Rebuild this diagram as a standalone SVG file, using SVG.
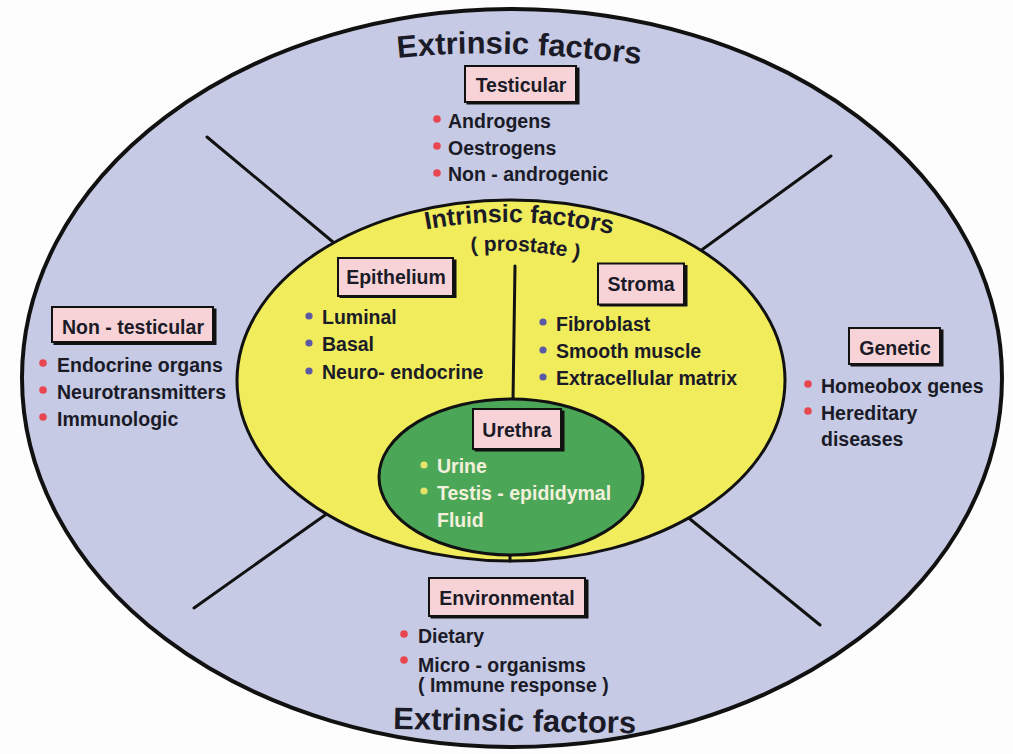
<svg xmlns="http://www.w3.org/2000/svg" width="1013" height="754" viewBox="0 0 1013 754">
  <style>
    text { font-family: "Liberation Sans", Arial, sans-serif; font-weight: bold; fill: #1b1b28; }
    .lbl { font-size: 19.5px; text-anchor: middle; }
    .item { font-size: 19.5px; }
    .big { font-size: 31px; }
    .box { fill: #f7d3d7; stroke: #111; stroke-width: 2; }
    .shadow { fill: #111; }
    .rb { fill: #e8474f; }
    .bb { fill: #5b58a6; }
    .yb { fill: #e6e36a; }
    .lt { fill: #f3f1dc; }
    .line { stroke: #111; stroke-width: 3; stroke-linecap: round; fill: none; }
  </style>
  <defs>
    <path id="arcTop" d="M 398 58 Q 505 46 652 66"/>
    <path id="arcIntr" d="M 414 232 Q 515 210 624 237"/>
    <path id="arcPros" d="M 464 253 Q 523 246 586 261"/>
  </defs>

  <rect width="1013" height="754" fill="#fdfdfd"/>

  <!-- outer ring: extrinsic factors -->
  <g id="extrinsic">
    <ellipse cx="512" cy="378" rx="490" ry="369" fill="#c6cae4" stroke="#111" stroke-width="4"/>
    <text class="big"><textPath href="#arcTop">Extrinsic factors</textPath></text>
    <text class="big" x="393" y="729" transform="rotate(1 393 729)">Extrinsic factors</text>
  </g>

  <!-- spokes separating the extrinsic sectors -->
  <g id="connectors" class="line">
    <line x1="207" y1="137" x2="345" y2="252"/>
    <line x1="831" y1="156" x2="692" y2="257"/>
    <line x1="194" y1="608" x2="335" y2="508"/>
    <line x1="820" y1="625" x2="685" y2="515"/>
  </g>

  <!-- prostate: intrinsic factors -->
  <g id="intrinsic">
    <ellipse cx="511" cy="380.5" rx="274" ry="180.5" fill="#f0ec5c" stroke="#111" stroke-width="3"/>
    <text style="font-size:25px;text-anchor:middle"><textPath href="#arcIntr" startOffset="50%">Intrinsic factors</textPath></text>
    <text style="font-size:21px;text-anchor:middle"><textPath href="#arcPros" startOffset="50%">( prostate )</textPath></text>
    <line class="line" x1="515" y1="266" x2="513" y2="400"/>
    <line class="line" x1="510" y1="554" x2="510" y2="561"/>
  </g>

  <g id="epithelium">
    <rect class="shadow" x="339.5" y="259.5" width="117" height="38.5"/>
    <rect class="box" x="338" y="258" width="115" height="38"/>
    <text class="lbl" x="396" y="284">Epithelium</text>
    <circle class="bb" cx="309" cy="316" r="3.6"/>
    <circle class="bb" cx="309" cy="343" r="3.6"/>
    <circle class="bb" cx="309" cy="371" r="3.6"/>
    <text class="item" x="322" y="324">Luminal</text>
    <text class="item" x="322" y="351">Basal</text>
    <text class="item" x="322" y="379">Neuro- endocrine</text>
  </g>

  <g id="stroma">
    <rect class="shadow" x="599.5" y="265" width="88" height="41.5"/>
    <rect class="box" x="598" y="263.5" width="86" height="41"/>
    <text class="lbl" x="641" y="291">Stroma</text>
    <circle class="bb" cx="543" cy="322" r="3.6"/>
    <circle class="bb" cx="543" cy="350" r="3.6"/>
    <circle class="bb" cx="543" cy="377" r="3.6"/>
    <text class="item" x="556" y="331">Fibroblast</text>
    <text class="item" x="556" y="358">Smooth muscle</text>
    <text class="item" x="556" y="385">Extracellular matrix</text>
  </g>

  <g id="urethra">
    <ellipse cx="511" cy="477" rx="132" ry="78" fill="#4ca658" stroke="#111" stroke-width="3"/>
    <rect class="shadow" x="474.5" y="410.5" width="90" height="41"/>
    <rect class="box" x="473" y="409" width="88" height="40"/>
    <text class="lbl" x="517" y="437">Urethra</text>
    <circle class="yb" cx="424" cy="465" r="3.6"/>
    <circle class="yb" cx="424" cy="491" r="3.6"/>
    <text class="item lt" x="437" y="473">Urine</text>
    <text class="item lt" x="437" y="500">Testis - epididymal</text>
    <text class="item lt" x="437" y="527">Fluid</text>
  </g>

  <g id="testicular">
    <rect class="shadow" x="466.5" y="67.5" width="113" height="37"/>
    <rect class="box" x="465" y="66" width="111" height="36"/>
    <text class="lbl" x="521" y="92">Testicular</text>
    <circle class="rb" cx="437" cy="119" r="3.8"/>
    <circle class="rb" cx="437" cy="146" r="3.8"/>
    <circle class="rb" cx="437" cy="173" r="3.8"/>
    <text class="item" x="448" y="128">Androgens</text>
    <text class="item" x="448" y="155">Oestrogens</text>
    <text class="item" x="448" y="181">Non - androgenic</text>
  </g>

  <g id="non-testicular">
    <rect class="shadow" x="53.5" y="308.5" width="163" height="36.5"/>
    <rect class="box" x="52" y="307" width="161" height="35"/>
    <text class="lbl" x="133" y="334">Non - testicular</text>
    <circle class="rb" cx="43" cy="363" r="3.8"/>
    <circle class="rb" cx="43" cy="390" r="3.8"/>
    <circle class="rb" cx="43" cy="417" r="3.8"/>
    <text class="item" x="57" y="372">Endocrine organs</text>
    <text class="item" x="57" y="399">Neurotransmitters</text>
    <text class="item" x="57" y="426">Immunologic</text>
  </g>

  <g id="genetic">
    <rect class="shadow" x="850.5" y="329.5" width="93" height="37"/>
    <rect class="box" x="849" y="328" width="91" height="36"/>
    <text class="lbl" x="895" y="355">Genetic</text>
    <circle class="rb" cx="808" cy="384" r="3.8"/>
    <circle class="rb" cx="808" cy="411" r="3.8"/>
    <text class="item" x="821" y="393">Homeobox genes</text>
    <text class="item" x="821" y="420">Hereditary</text>
    <text class="item" x="821" y="446">diseases</text>
  </g>

  <g id="environmental">
    <rect class="shadow" x="430.5" y="579.5" width="158" height="39"/>
    <rect class="box" x="429" y="578" width="156" height="38"/>
    <text class="lbl" x="507" y="605">Environmental</text>
    <circle class="rb" cx="404" cy="634" r="3.8"/>
    <circle class="rb" cx="404" cy="660" r="3.8"/>
    <text class="item" x="418" y="643">Dietary</text>
    <text class="item" x="418" y="672">Micro - organisms</text>
    <text class="item" x="418" y="692">( Immune response )</text>
  </g>
</svg>
